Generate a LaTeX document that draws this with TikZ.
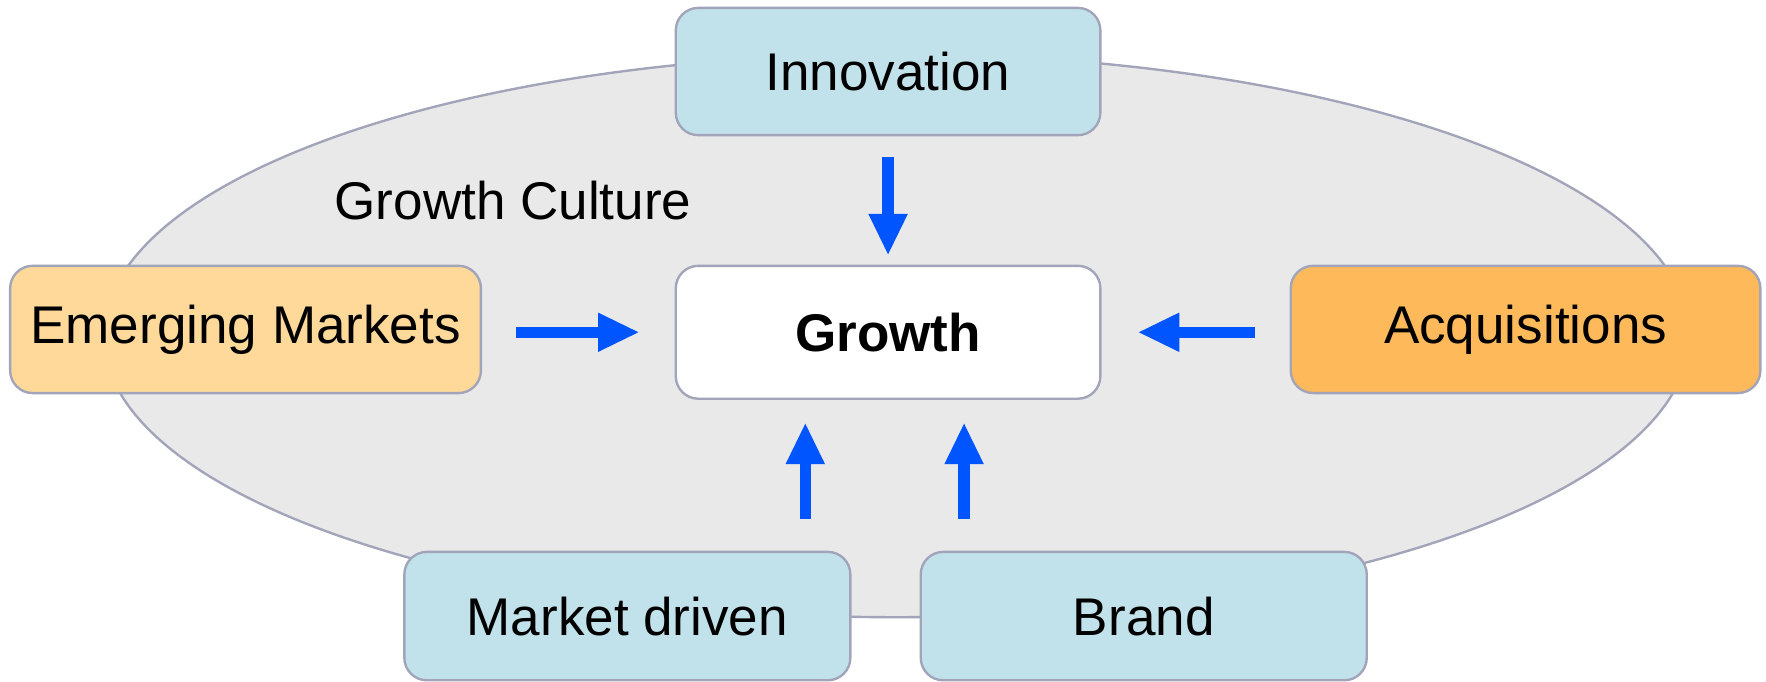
\documentclass[tikz,border=0pt]{standalone}
\usepackage{fontspec}
\setmainfont{Liberation Sans}
\usepackage{tikz}
\usetikzlibrary{arrows.meta}

\definecolor{boxblue}{HTML}{C1E2EB}
\definecolor{boxline}{HTML}{A2A5B9}
\definecolor{cultgray}{HTML}{E9E9EA}
\definecolor{lightorange}{HTML}{FED99A}
\definecolor{darkorange}{HTML}{FDB95A}
\definecolor{arrowblue}{HTML}{0055FF}

\tikzset{
  box/.style={draw=boxline, line width=0.6pt, rounded corners=0.2cm,
    minimum width=3.77cm, minimum height=1.13cm, inner sep=0pt},
  flow/.style={draw=arrowblue, line width=1mm,
    -{Triangle[width=3.2mm, length=3.7mm]}}
}

\begin{document}
\begin{tikzpicture}[font=\fontsize{13.4}{16}\selectfont]
        \useasboundingbox (0, 0) rectangle (15.68, 6.05);

        % growth culture
        \draw [draw=boxline, line width=0.6pt, fill=cultgray]
          (7.96, 3.07) ellipse (7.04 and 2.50);
        \node [] (culture) at (4.555, 4.27) {Growth Culture};

        % Innovation
        \node [box, fill=boxblue] (innov) at (7.885, 5.415) {Innovation};

        % Growth
        \node [box, fill=white, minimum height=1.18cm] (growth) at (7.885, 3.10)
          {\textbf{Growth}};

        % Emerging Markets
        \node [box, fill=lightorange, minimum width=4.18cm] (emerg) at (2.18, 3.125)
          {Emerging Markets};

        % Acquisitions
        \node [box, fill=darkorange, minimum width=4.17cm] (acq) at (13.545, 3.125)
          {Acquisitions};

        % Market driven
        \node [box, fill=boxblue, minimum width=3.96cm, minimum height=1.14cm]
          (market) at (5.57, 0.58) {Market driven};

        % Brand
        \node [box, fill=boxblue, minimum width=3.96cm, minimum height=1.14cm]
          (brand) at (10.155, 0.58) {Brand};

        % the arrows into growth
        \coordinate (mtip) at ([xshift=-0.735cm]growth.south);
        \coordinate (btip) at ([xshift=0.675cm]growth.south);

        \draw [flow, shorten <=0.18cm, shorten >=0.08cm]
          (innov.south) -- (growth.north);
        \draw [flow, shorten <=0.30cm, shorten >=0.31cm]
          (emerg.east |- growth.west) -- (growth.west);
        \draw [flow, shorten <=0.31cm, shorten >=0.32cm]
          (acq.west |- growth.east) -- (growth.east);
        \draw [flow, shorten <=0.28cm, shorten >=0.20cm]
          (market.north -| mtip) -- (mtip);
        \draw [flow, shorten <=0.28cm, shorten >=0.20cm]
          (brand.north -| btip) -- (btip);

      \end{tikzpicture}
\end{document}
